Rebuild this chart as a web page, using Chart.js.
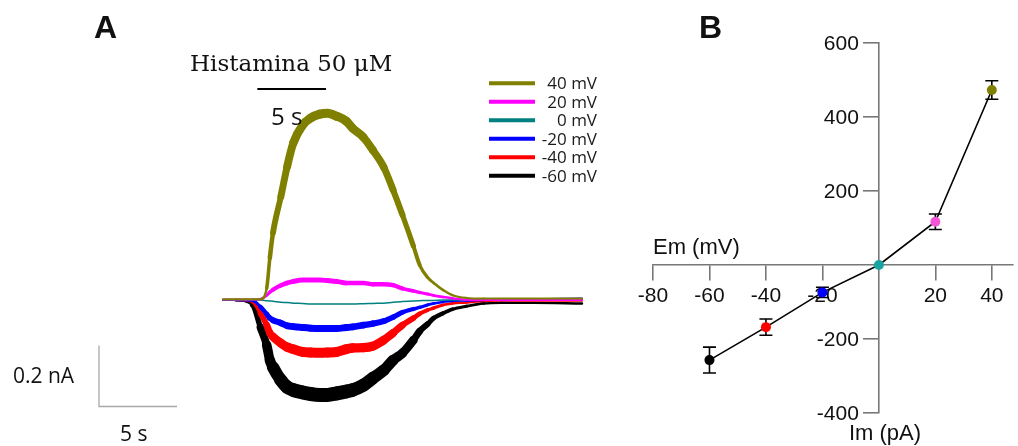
<!DOCTYPE html>
<html><head><meta charset="utf-8">
<script src="https://cdn.jsdelivr.net/npm/chart.js@4.4.1/dist/chart.umd.min.js"></script>
<style>
html,body{margin:0;padding:0;background:#fff;overflow:hidden;}
#wrap{position:relative;width:1018px;height:446px;}
canvas{position:absolute;left:0;top:0;}
</style></head><body>
<div id="wrap"><canvas id="traces" width="1018" height="446"></canvas><canvas id="iv" width="1018" height="446"></canvas></div>
<script>
// ---------- Panel A: current traces (time in s, current in nA) ----------
const timeS = [0, 0.8, 1.9, 2.4, 2.8, 3.0, 3.2, 3.7, 4.1, 4.5, 5.1, 5.6, 6.2, 6.7, 7.3, 7.9, 8.3, 9.0, 9.6, 10.3, 10.9, 11.5, 12.2, 12.6, 13.1, 13.5, 14.1, 14.7, 15.6, 16.7, 17.8, 19.9, 23.0];
const i40mV  = [0.003,0.003,0.003,0.003,0.039,0.138,0.220,0.338,0.436,0.515,0.574,0.597,0.610,0.613,0.603,0.587,0.564,0.534,0.492,0.436,0.361,0.279,0.177,0.115,0.075,0.056,0.033,0.016,0.007,0.005,0.005,0.005,0.005];
const i20mV  = [0.002,0.002,0.002,0.003,0.016,0.026,0.034,0.048,0.056,0.061,0.066,0.066,0.066,0.064,0.061,0.056,0.056,0.056,0.052,0.052,0.049,0.038,0.030,0.025,0.020,0.015,0.010,0.006,0.001,0,0,0,0];
const i0mV   = [0,0,0,0,-0.002,-0.003,-0.004,-0.007,-0.008,-0.010,-0.011,-0.013,-0.013,-0.013,-0.013,-0.013,-0.013,-0.012,-0.011,-0.010,-0.007,-0.005,-0.003,-0.002,-0.001,-0.001,0,0,0,0,0,0,0];
const im20mV = [0,0,-0.002,-0.022,-0.046,-0.059,-0.066,-0.075,-0.084,-0.087,-0.090,-0.092,-0.093,-0.093,-0.093,-0.090,-0.088,-0.082,-0.077,-0.069,-0.056,-0.040,-0.029,-0.024,-0.016,-0.011,-0.006,-0.003,-0.002,0,0,0.002,0.005];
const im40mV = [0,0,-0.006,-0.043,-0.082,-0.108,-0.120,-0.141,-0.154,-0.161,-0.170,-0.172,-0.173,-0.172,-0.170,-0.161,-0.157,-0.156,-0.151,-0.131,-0.108,-0.082,-0.059,-0.045,-0.033,-0.026,-0.016,-0.011,-0.008,-0.003,-0.002,-0.002,-0.002];
const im60mV = [0,0,-0.016,-0.090,-0.148,-0.197,-0.220,-0.262,-0.285,-0.295,-0.303,-0.308,-0.311,-0.311,-0.306,-0.300,-0.295,-0.279,-0.256,-0.230,-0.197,-0.174,-0.131,-0.102,-0.079,-0.059,-0.043,-0.030,-0.020,-0.011,-0.009,-0.009,-0.011];
const traceLabels = ['40 mV','20 mV','0 mV','-20 mV','-40 mV','-60 mV'];
const histamineOnOff = [2.2, 6.6];   // s
const scaleBarSeconds = 5;
const scaleBarNA = 0.2;

// ---------- Panel B: I-V relation ----------
const emMV  = [-60, -40, -20, 0, 20, 40];
const imPA  = [-257, -168, -74, 0, 117, 473];
const semPA = [35, 22, 14, 0, 21, 25];
const xTickStep = 20, yTickStep = 200;

// ---------- styles ----------
const traceColors = ['#808000','#ff00ff','#008080','#0000ff','#ff0000','#000000'];
const traceBand   = [9, 5, 1.5, 7, 10, 14];
const pointColors = ['#000000','#ff0000','#0000ff','#1aa3a3','#f455d8','#808000'];
const traceSeries = [i40mV, i20mV, i0mV, im20mV, im40mV, im60mV];
const tickFont = '21px "Liberation Sans", Arial, sans-serif';

const datasetsA = traceSeries.map((vals, k) => {
  const maxAbs = Math.max(...vals.map(Math.abs)) || 1;
  const base = Math.min(2, traceBand[k]);
  return {
    label: traceLabels[k],
    data: timeS.map((t, i) => ({x: t, y: vals[i]})),
    borderColor: traceColors[k],
    borderWidth: base,
    borderCapStyle: 'round',
    borderJoinStyle: 'round',
    pointRadius: 0,
    cubicInterpolationMode: 'monotone',
    clip: false,
    segment: {
      borderWidth: c => {
        const v = Math.max(Math.abs(c.p0.parsed.y), Math.abs(c.p1.parsed.y));
        return base + (traceBand[k] - base) * v / maxAbs;
      }
    }
  };
});

const annotA = {
  id: 'annotA',
  afterDraw(chart) {
    const {ctx, scales: {x, y}} = chart;
    ctx.save();
    ctx.fillStyle = '#111';
    ctx.textAlign = 'left';
    ctx.textBaseline = 'alphabetic';
    ctx.font = 'bold 32px "Liberation Sans", Arial, sans-serif';
    ctx.fillText('A', 94, 38);
    ctx.font = '23px "DejaVu Serif", serif';
    ctx.fillText('Histamina 50 \u03bcM', 190, 70.5);
    ctx.strokeStyle = '#000';
    ctx.lineWidth = 2;
    ctx.beginPath();
    ctx.moveTo(x.getPixelForValue(histamineOnOff[0]), 89);
    ctx.lineTo(x.getPixelForValue(histamineOnOff[1]), 89);
    ctx.stroke();
    ctx.font = '24px "Open Sans", sans-serif';
    ctx.fillText('5 s', 271, 125);
    // scale bars
    const w = x.getPixelForValue(scaleBarSeconds) - x.getPixelForValue(0);
    const h = y.getPixelForValue(0) - y.getPixelForValue(scaleBarNA);
    const bx = 99, by = 406.5;
    ctx.strokeStyle = '#a9a9a9';
    ctx.lineWidth = 1.3;
    ctx.beginPath();
    ctx.moveTo(bx, by - h); ctx.lineTo(bx, by); ctx.lineTo(bx + w, by);
    ctx.stroke();
    ctx.font = '21px "Open Sans", sans-serif';
    ctx.fillText('0.2 nA', 13, 383);
    ctx.fillText('5 s', 120, 441);
    // legend
    ctx.font = '17px "Open Sans", sans-serif';
    ctx.textAlign = 'right';
    ctx.textBaseline = 'middle';
    traceLabels.forEach((lab, k) => {
      const ry = 83.3 + k * 18.5;
      ctx.strokeStyle = traceColors[k];
      ctx.lineWidth = 4;
      ctx.lineCap = 'butt';
      ctx.beginPath(); ctx.moveTo(489, ry); ctx.lineTo(535, ry); ctx.stroke();
      ctx.fillStyle = '#1a1a1a';
      ctx.fillText(lab, 597, ry + 1);
    });
    ctx.restore();
  }
};

new Chart(document.getElementById('traces'), {
  type: 'line',
  data: {datasets: datasetsA},
  options: {
    responsive: false, animation: false, devicePixelRatio: 1,
    layout: {padding: {left: 223, right: 436, top: 102, bottom: 24}},
    plugins: {legend: {display: false}, tooltip: {enabled: false}},
    scales: {
      x: {type: 'linear', min: 0, max: 23, display: false},
      y: {type: 'linear', min: -0.4, max: 0.65, display: false}
    }
  },
  plugins: [annotA]
});

const errBars = {
  id: 'errBars',
  beforeDatasetsDraw(chart) {
    const {ctx, scales: {x, y}} = chart;
    ctx.save();
    ctx.strokeStyle = '#000';
    ctx.lineWidth = 1.6;
    emMV.forEach((e, i) => {
      if (!semPA[i]) return;
      const px = x.getPixelForValue(e);
      const t = y.getPixelForValue(imPA[i] + semPA[i]);
      const b = y.getPixelForValue(imPA[i] - semPA[i]);
      ctx.beginPath();
      ctx.moveTo(px, t); ctx.lineTo(px, b);
      ctx.moveTo(px - 6.5, t); ctx.lineTo(px + 6.5, t);
      ctx.moveTo(px - 6.5, b); ctx.lineTo(px + 6.5, b);
      ctx.stroke();
    });
    ctx.restore();
  },
  afterDraw(chart) {
    const {ctx, scales: {x, y}} = chart;
    ctx.save();
    ctx.fillStyle = '#111';
    // y tick labels, left of the tick marks
    ctx.font = tickFont;
    ctx.textAlign = 'right';
    ctx.textBaseline = 'middle';
    const axisX = x.getPixelForValue(0);
    y.ticks.forEach(t => {
      ctx.fillText(String(t.value), axisX - 15 - 5, y.getPixelForValue(t.value) + 1);
    });
    ctx.textAlign = 'left';
    ctx.textBaseline = 'alphabetic';
    ctx.font = 'bold 32px "Liberation Sans", Arial, sans-serif';
    ctx.fillText('B', 699, 37.5);
    ctx.font = '22px "Liberation Sans", Arial, sans-serif';
    ctx.fillText('Em (mV)', x.getPixelForValue(-80), y.getPixelForValue(0) - 11);
    ctx.fillText('Im (pA)', axisX - 30, y.bottom + 27);
    ctx.restore();
  }
};

const axisCommon = {
  grid: {drawOnChartArea: false, drawTicks: true, tickLength: 15, color: '#777', lineWidth: 1.6},
  border: {color: '#777', width: 1.6},
  afterBuildTicks: s => { s.ticks = s.ticks.filter(t => t.value !== 0); }
};

new Chart(document.getElementById('iv'), {
  type: 'scatter',
  data: {datasets: [{
    data: emMV.map((e, i) => ({x: e, y: imPA[i]})),
    showLine: true,
    borderColor: '#000',
    borderWidth: 1.6,
    pointRadius: 5,
    pointBorderWidth: 0,
    pointBackgroundColor: pointColors,
    clip: false
  }]},
  options: {
    responsive: false, animation: false, devicePixelRatio: 1,
    layout: {padding: {left: 653, right: 0, top: 43, bottom: 33}},
    plugins: {legend: {display: false}, tooltip: {enabled: false}},
    scales: {
      x: Object.assign({}, axisCommon, {
        type: 'linear', min: -80, max: 47.5, position: {y: 0},
        ticks: {stepSize: xTickStep, includeBounds: false, padding: 4, color: '#111',
                font: {family: '"Liberation Sans", Arial, sans-serif', size: 21}}
      }),
      y: Object.assign({}, axisCommon, {
        type: 'linear', min: -400, max: 600, position: {x: 0},
        ticks: {display: false, stepSize: yTickStep, includeBounds: false}
      })
    }
  },
  plugins: [errBars]
});
</script>
</body></html>
